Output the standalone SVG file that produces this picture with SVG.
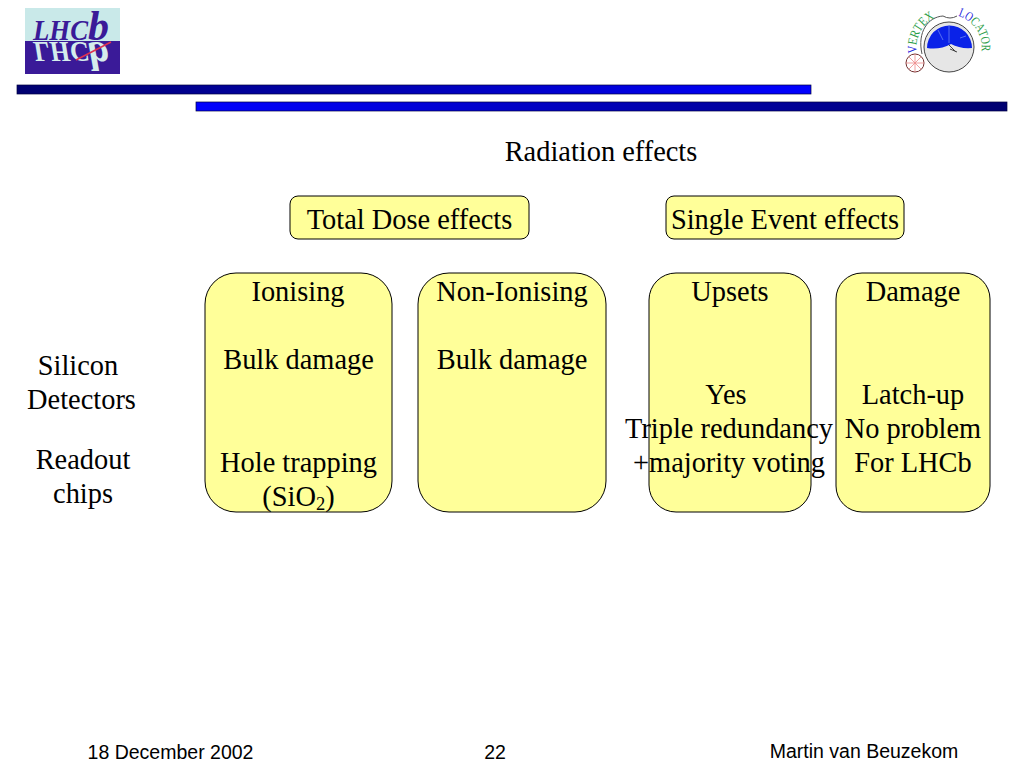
<svg xmlns="http://www.w3.org/2000/svg" width="1024" height="768" viewBox="0 0 1024 768">
<style>
.t{font-family:"Liberation Serif","Times New Roman",serif;font-size:28.4px;fill:#000;text-anchor:middle}
.f{font-family:"Liberation Sans",Arial,sans-serif;font-size:19.500px;fill:#000;text-anchor:middle}
.h{fill:#ffff99;stroke:#000;stroke-width:1}
.v{font-family:"Liberation Serif",serif;font-size:13px;fill:#2e9e4a}
.b{fill:#2222dd}
.l{font-family:"Liberation Serif",serif;font-style:italic;font-weight:bold}
</style>
<defs>
<linearGradient id="g1" x1="0" x2="1" y1="0" y2="0"><stop offset="0" stop-color="#000070"/><stop offset="1" stop-color="#0000ff"/></linearGradient>
<linearGradient id="g2" x1="0" x2="1" y1="0" y2="0"><stop offset="0" stop-color="#0000ff"/><stop offset="1" stop-color="#000070"/></linearGradient>
<path id="arcL" d="M917 53 A32.500 32.500 0 0 1 940 16"/>
<path id="arcR" d="M958 16 A32.500 32.500 0 0 1 981 54"/>
</defs>
<rect width="1024" height="768" fill="#fff"/>
<g id="lhcb-logo">
<rect x="25" y="8" width="95" height="33" fill="#c9e9e9"/>
<rect x="25" y="41" width="95" height="33" fill="#3a1a98"/>
<text class="l" x="33" y="40" font-size="29" fill="#3a1a98" textLength="55" lengthAdjust="spacingAndGlyphs">LHC</text>
<text class="l" x="88" y="40" font-size="42" fill="#3a1a98">b</text>
<text class="l" transform="translate(33,42) scale(1,-1)" font-size="29" fill="#d5ecec" textLength="55" lengthAdjust="spacingAndGlyphs">LHC</text>
<text class="l" transform="translate(88,42) scale(1,-1)" font-size="42" fill="#d5ecec">b</text>
<line x1="76" y1="60" x2="111" y2="42" stroke="#e03050" stroke-width="1.500"/>
</g>
<g id="velo-logo">
<path d="M922 54 C917 32 928 17 943 16 Q950 20 957 16" fill="none" stroke="#555" stroke-width="1"/>
<circle cx="949" cy="47" r="25" fill="#e6e6e6" stroke="#444" stroke-width="1"/>
<path d="M927 48 A22.500 22.500 0 0 1 972 48 Q960 49 951 44 Q940 50 927 48Z" fill="#0a22e8"/>
<path d="M949 25V43M938 30L943 40M960 38L966 36" stroke="#6a80f0" stroke-width="0.8" fill="none"/>
<path d="M949 45 L956 52 M950 49 L957 52" stroke="#444" stroke-width="1"/>
<circle cx="915" cy="63" r="9" fill="#fff" stroke="#703030" stroke-width="1"/>
<path d="M906 63H924M915 54V72M909 57L921 69M921 57L909 69" stroke="#ee8888" stroke-width="0.8"/>
<text class="v"><textPath href="#arcL" textLength="42" lengthAdjust="spacingAndGlyphs"><tspan class="b">V</tspan>ERTEX</textPath></text>
<text class="v"><textPath href="#arcR" textLength="46" lengthAdjust="spacingAndGlyphs"><tspan class="b">LO</tspan>CATOR</textPath></text>
</g>
<g id="header-bars">
<rect x="17" y="85" width="794" height="9" fill="url(#g1)" stroke="#000040" stroke-width="0.7"/>
<rect x="196" y="102" width="811" height="9" fill="url(#g2)" stroke="#000040" stroke-width="0.7"/>
</g>
<g id="connectors"></g>
<g id="title"><text class="t" x="601" y="161">Radiation effects</text></g>
<g id="total-dose"><rect class="h" x="290" y="196" width="239" height="43" rx="8"/><text class="t" x="409.500" y="229">Total Dose effects</text></g>
<g id="single-event"><rect class="h" x="666" y="196" width="238" height="43" rx="8"/><text class="t" x="785" y="229">Single Event effects</text></g>
<g id="ionising"><rect class="h" x="205" y="273" width="187" height="239" rx="31"/>
<text class="t" x="298" y="301">Ionising</text>
<text class="t" x="298.500" y="369">Bulk damage</text>
<text class="t" x="298.500" y="472">Hole trapping</text>
<text class="t" x="298.500" y="506">(SiO<tspan font-size="18.600" dy="4">2</tspan><tspan dy="-4">)</tspan></text></g>
<g id="non-ionising"><rect class="h" x="418" y="273" width="188" height="239" rx="31"/>
<text class="t" x="512" y="301">Non-Ionising</text>
<text class="t" x="512" y="369">Bulk damage</text></g>
<g id="upsets"><rect class="h" x="649" y="273" width="162" height="239" rx="27"/>
<text class="t" x="730" y="301">Upsets</text>
<text class="t" x="726" y="404">Yes</text>
<text class="t" x="729" y="438">Triple redundancy</text>
<text class="t" x="729" y="472">+majority voting</text></g>
<g id="damage"><rect class="h" x="836" y="273" width="154" height="239" rx="26"/>
<text class="t" x="913" y="301">Damage</text>
<text class="t" x="913" y="404">Latch-up</text>
<text class="t" x="913" y="438">No problem</text>
<text class="t" x="913" y="472">For LHCb</text></g>
<g id="row-labels">
<text class="t" x="78" y="375">Silicon</text>
<text class="t" x="81.500" y="409">Detectors</text>
<text class="t" x="83" y="469">Readout</text>
<text class="t" x="83" y="503">chips</text></g>
<g id="footer">
<text class="f" x="170.500" y="759">18 December 2002</text>
<text class="f" x="495" y="759">22</text>
<text class="f" x="864" y="758">Martin van Beuzekom</text></g>
</svg>
